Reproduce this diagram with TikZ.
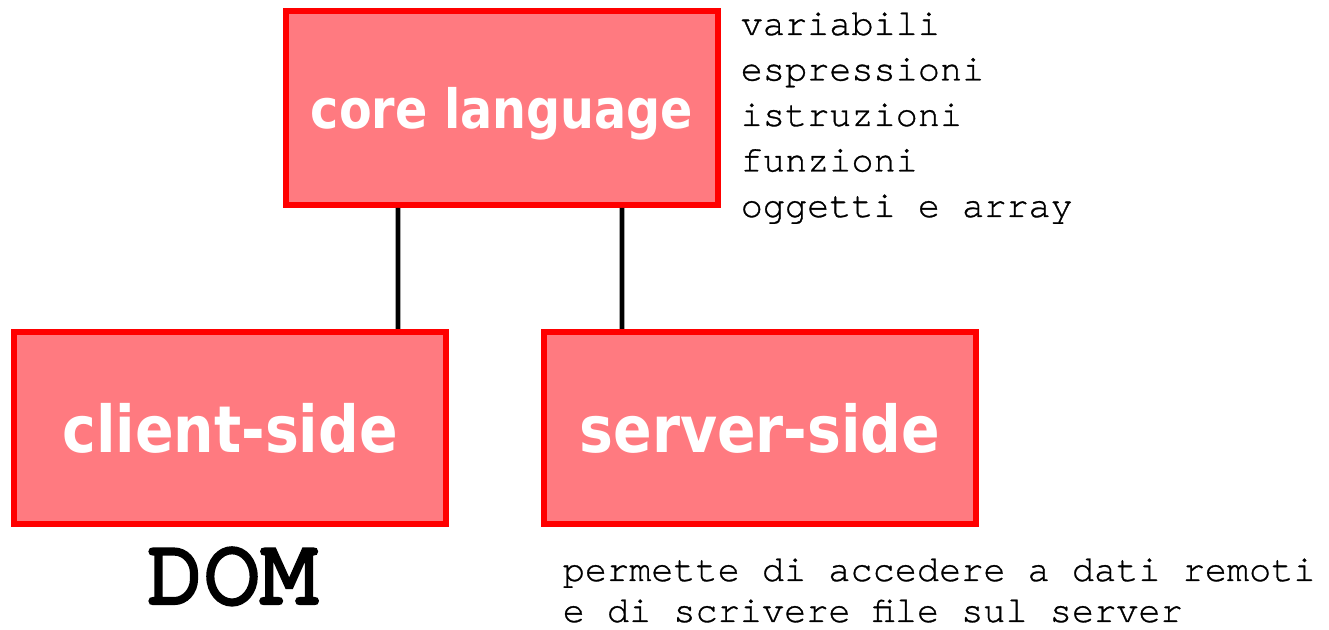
\documentclass[tikz,border=0pt]{standalone}
\usepackage{fontspec}
\newfontfamily\notefont{TeX Gyre Cursor}[FakeBold=0.8]
\newfontfamily\domfont{TeX Gyre Cursor}[FakeBold=4.5]
\newfontfamily\boxfont{DejaVu Sans}[FakeStretch=0.88]
\usetikzlibrary{positioning}
\definecolor{boxpink}{RGB}{255,122,128}
\definecolor{boxred}{RGB}{255,0,0}

\begin{document}
\begin{tikzpicture}[x=0.1mm,y=-0.1mm,
  layer/.style={draw=boxred, line width=1.7pt, fill=boxpink, text=white,
    minimum width=43.2mm, minimum height=19.4mm, inner sep=0pt, text depth=0pt},
  note/.style={anchor=base west, inner sep=0pt,
    font=\notefont\fontsize{10.5pt}{12pt}\selectfont},
  link/.style={line width=1.3pt}]

\useasboundingbox (0,0) rectangle (1329,630);

\node[layer, font=\boxfont\bfseries\fontsize{15.4pt}{18pt}\selectfont] (core) at (502,108) {core language};
\node[layer, minimum height=19.2mm, font=\boxfont\bfseries\fontsize{18.4pt}{21pt}\selectfont] (client) at (230,428) {client-side};
\node[layer, minimum height=19.2mm, font=\boxfont\bfseries\fontsize{18.4pt}{21pt}\selectfont] (server) at (760,428) {server-side};

\draw[link] ([xshift=-10.4mm]core.south) -- ([xshift=16.8mm]client.north);
\draw[link] ([xshift=12mm]core.south) -- ([xshift=-13.8mm]server.north);

\foreach \w [count=\k] in {variabili,espressioni,istruzioni,funzioni,oggetti e array}
    \node[note] (feat\k) at (740,{-10.5+45.5*\k}) {\w};

\node[anchor=base, inner sep=0pt, font=\domfont\fontsize{27pt}{30pt}\selectfont] (dom) at (232,603) {DOM};

\node[note] (remote1) at (562,581) {permette di accedere a dati remoti};
\node[note] (remote2) at (562,622) {e di scrivere file sul server};

\end{tikzpicture}
\end{document}
